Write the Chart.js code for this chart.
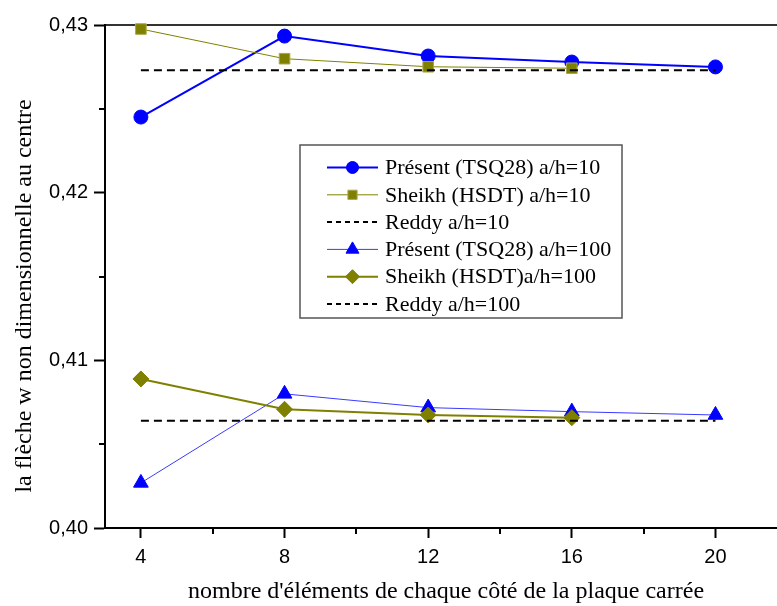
<!DOCTYPE html>
<html>
<head>
<meta charset="utf-8">
<script src="https://cdn.jsdelivr.net/npm/chart.js@4"></script>
<style>
    html, body { margin: 0; padding: 0; background: #fff; overflow: hidden; }
    canvas { display: block; }
</style>
</head>
<body>
<!-- a bit wider than the window: the original frame is cut off at the right edge -->
<canvas id="flecheChart" width="786" height="606"></canvas>
<script>
// --- DATA ---
const nbElements = [4, 8, 12, 16, 20];
const presentH10 = [0.42451, 0.42934, 0.42815, 0.42779, 0.42750];
const sheikhH10 = [0.42976, 0.42799, 0.42751, 0.42742];
const reddyH10 = [0.4273, 0.4273, 0.4273, 0.4273, 0.4273];
const presentH100 = [0.40269, 0.40800, 0.40718, 0.40694, 0.40674];
const sheikhH100 = [0.40889, 0.40708, 0.40674, 0.40658];
const reddyH100 = [0.4064, 0.4064, 0.4064, 0.4064, 0.4064];

const xTicks = [4, 8, 12, 16, 20];
const xMinorTicks = [6, 10, 14, 18];
const yTicks = [0.40, 0.41, 0.42, 0.43];
const yMinorTicks = [0.405, 0.415, 0.425];

const xTitle = "nombre d'éléments de chaque côté de la plaque carrée";
const yTitle = 'la flèche w non dimensionnelle au centre';

// --- THEME ---
const BLUE = '#0000ff';
const OLIVE = '#808000';
const SERIF = "'Liberation Serif', 'Times New Roman', serif";
const SANS = "'Liberation Sans', Arial, sans-serif";

function toPoints(ys) {
    return ys.map((y, i) => ({ x: nbElements[i], y: y }));
}

function series(label, ys, style) {
    return Object.assign({
        label: label,
        data: toPoints(ys),
        fill: false,
        tension: 0,
        clip: false,
        pointBorderWidth: 1
    }, style);
}

const datasets = [
    series('Présent (TSQ28) a/h=10', presentH10, {
        borderColor: BLUE, backgroundColor: BLUE, borderWidth: 2,
        pointStyle: 'circle', pointRadius: 7, order: 6
    }),
    series('Sheikh (HSDT) a/h=10', sheikhH10, {
        borderColor: OLIVE, backgroundColor: OLIVE, borderWidth: 1,
        pointBorderColor: '#a8a850', pointStyle: 'rect', pointRadius: 7.5, order: 5
    }),
    series('Reddy a/h=10', reddyH10, {
        borderColor: '#000', borderWidth: 2, borderDash: [8, 5],
        pointRadius: 0, order: 4
    }),
    series('Présent (TSQ28) a/h=100', presentH100, {
        borderColor: '#3a3aff', backgroundColor: BLUE, pointBorderColor: BLUE, borderWidth: 1,
        pointStyle: 'triangle', pointRadius: 8.5, order: 3
    }),
    series('Sheikh (HSDT)a/h=100', sheikhH100, {
        borderColor: OLIVE, backgroundColor: OLIVE, borderWidth: 2,
        pointStyle: 'rectRot', pointRadius: 8, order: 2
    }),
    series('Reddy a/h=100', reddyH100, {
        borderColor: '#000', borderWidth: 2, borderDash: [8, 5],
        pointRadius: 0, order: 1
    })
];

// minor ticks + axis titles + framed legend inside the plot
const decorations = {
    id: 'decorations',
    afterDraw(chart) {
        const ctx = chart.ctx;
        const area = chart.chartArea;
        const xs = chart.scales.x;
        const ys = chart.scales.y;
        ctx.save();

        // minor ticks
        ctx.strokeStyle = '#000';
        ctx.lineWidth = 2;
        xMinorTicks.forEach(v => {
            const px = Math.round(xs.getPixelForValue(v));
            ctx.beginPath();
            ctx.moveTo(px, area.bottom);
            ctx.lineTo(px, area.bottom + 6);
            ctx.stroke();
        });
        yMinorTicks.forEach(v => {
            const py = Math.round(ys.getPixelForValue(v));
            ctx.beginPath();
            ctx.moveTo(area.left - 6, py);
            ctx.lineTo(area.left, py);
            ctx.stroke();
        });

        // axis titles
        ctx.fillStyle = '#000';
        ctx.font = '24px ' + SERIF;
        ctx.textAlign = 'center';
        ctx.textBaseline = 'middle';
        ctx.fillText(xTitle, 446, 592);
        ctx.save();
        ctx.translate(25, 296);
        ctx.rotate(-Math.PI / 2);
        ctx.fillText(yTitle, 0, 0);
        ctx.restore();

        // legend box
        const box = { x: 300, y: 145, w: 322, h: 173 };
        ctx.fillStyle = '#fff';
        ctx.fillRect(box.x, box.y, box.w, box.h);
        ctx.strokeStyle = '#555';
        ctx.lineWidth = 1.5;
        ctx.strokeRect(box.x, box.y, box.w, box.h);

        chart.data.datasets.forEach((ds, i) => {
            const rowY = 167.5 + i * 27.3;
            ctx.save();
            ctx.strokeStyle = ds.borderColor;
            ctx.lineWidth = ds.borderWidth;
            ctx.setLineDash(ds.borderDash ? [5, 4] : []);
            ctx.beginPath();
            ctx.moveTo(327, rowY);
            ctx.lineTo(378, rowY);
            ctx.stroke();
            ctx.setLineDash([]);
            if (ds.pointRadius > 0) {
                ctx.fillStyle = ds.backgroundColor;
                ctx.strokeStyle = ds.pointBorderColor || ds.borderColor;
                ctx.lineWidth = 1;
                Chart.helpers.drawPoint(ctx, {
                    pointStyle: ds.pointStyle,
                    rotation: 0,
                    radius: ds.pointRadius - 1,
                    borderWidth: 1
                }, 352.5, rowY);
            }
            ctx.fillStyle = '#000';
            ctx.font = '22px ' + SERIF;
            ctx.textAlign = 'left';
            ctx.textBaseline = 'middle';
            ctx.fillText(ds.label, 385, rowY + 1);
            ctx.restore();
        });

        ctx.restore();
    }
};

function noSidePadding(s) {
    s.paddingLeft = 0;
    s.paddingRight = 0;
}

const ctx = document.getElementById('flecheChart').getContext('2d');
const flecheChart = new Chart(ctx, {
    type: 'line',
    data: { datasets: datasets },
    options: {
        responsive: false,
        animation: false,
        devicePixelRatio: 1,
        layout: { padding: 0 },
        scales: {
            x: {
                type: 'linear',
                position: 'bottom',
                min: 3,
                max: 21.7,
                afterBuildTicks: s => { s.ticks = xTicks.map(v => ({ value: v })); },
                afterFit: s => { s.height = 78; noSidePadding(s); },
                ticks: { color: '#000', padding: 7, font: { family: SANS, size: 20 }, maxRotation: 0 },
                grid: { drawOnChartArea: false, tickLength: 10, tickWidth: 2, tickColor: '#000' },
                border: { color: '#000', width: 2 }
            },
            xTop: {
                type: 'linear',
                position: 'top',
                min: 3,
                max: 21.7,
                afterFit: s => { s.height = 25; noSidePadding(s); },
                ticks: { display: false },
                grid: { drawOnChartArea: false, drawTicks: false },
                border: { color: '#333', width: 2 }
            },
            y: {
                min: 0.40,
                max: 0.43,
                afterBuildTicks: s => { s.ticks = yTicks.map(v => ({ value: v })); },
                afterFit: s => { s.width = 105; s.paddingTop = 0; s.paddingBottom = 0; },
                ticks: {
                    color: '#000', padding: 6, font: { family: SANS, size: 20 },
                    callback: v => v.toFixed(2).replace('.', ',')
                },
                grid: { drawOnChartArea: false, tickLength: 11, tickWidth: 2, tickColor: '#000' },
                border: { color: '#000', width: 2 }
            }
        },
        plugins: {
            legend: { display: false },
            tooltip: { enabled: false }
        }
    },
    plugins: [decorations]
});
</script>
</body>
</html>
